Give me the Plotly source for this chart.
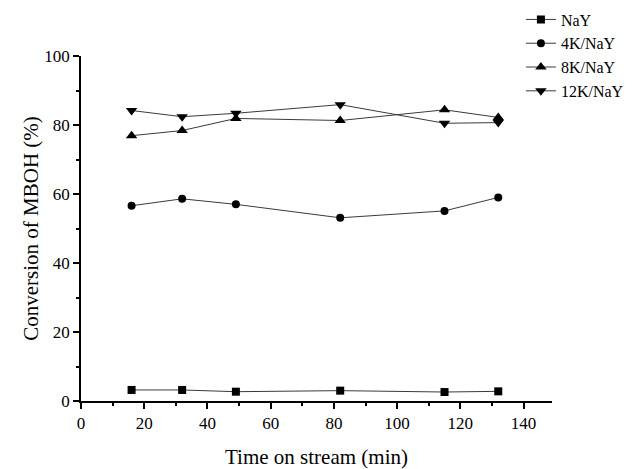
import plotly.graph_objects as go

time_min = [16, 32, 49, 82, 115, 132]
nay = [3.2, 3.2, 2.7, 3.0, 2.6, 2.8]
k4_nay = [56.6, 58.6, 57.0, 53.1, 55.1, 59.0]
k8_nay = [76.9, 78.4, 81.9, 81.3, 84.4, 82.2]
k12_nay = [84.2, 82.4, 83.4, 85.9, 80.5, 80.7]

series = [
    ("NaY", nay, "square", 8),
    ("4K/NaY", k4_nay, "circle", 8),
    ("8K/NaY", k8_nay, "triangle-up", 10),
    ("12K/NaY", k12_nay, "triangle-down", 10),
]

font_family = "Liberation Serif, Times New Roman, serif"

fig = go.Figure()
for name, vals, sym, sz in series:
    fig.add_trace(go.Scatter(
        x=time_min, y=vals, name=name, mode="lines+markers",
        line=dict(color="#3a3a3a", width=1),
        marker=dict(symbol=sym, size=sz, color="black"),
    ))

fig.update_layout(
    width=635, height=469,
    margin=dict(l=81, r=83, t=56, b=68, autoexpand=False),
    paper_bgcolor="white", plot_bgcolor="white",
    font=dict(family=font_family, color="black", size=17),
    legend=dict(x=0.934, y=1.155, xanchor="left", yanchor="top",
                font=dict(size=16, family=font_family),
                bgcolor="rgba(0,0,0,0)", tracegroupgap=0),
    showlegend=True,
)
fig.update_xaxes(
    range=[0, 149], tickvals=[0, 20, 40, 60, 80, 100, 120, 140],
    showline=True, linecolor="black", linewidth=1.5,
    ticks="outside", ticklen=6, tickcolor="black", tickwidth=1.5,
    minor=dict(dtick=10, ticks="outside", ticklen=3, tickcolor="black"),
    showgrid=False, zeroline=False,
    title=dict(text="Time on stream (min)", font=dict(size=21), standoff=18),
    tickfont=dict(size=17),
)
fig.update_yaxes(
    range=[0, 100], tickvals=[0, 20, 40, 60, 80, 100],
    showline=True, linecolor="black", linewidth=1.5,
    ticks="outside", ticklen=6, tickcolor="black", tickwidth=1.5,
    minor=dict(dtick=10, ticks="outside", ticklen=3, tickcolor="black"),
    showgrid=False, zeroline=False,
    title=dict(text="Conversion of MBOH (%)", font=dict(size=21), standoff=0),
    tickfont=dict(size=17),
)

fig.write_html(
    "out.html",
    config={"displayModeBar": False},
    post_script="document.body.style.margin='0';document.body.style.padding='0';",
)
